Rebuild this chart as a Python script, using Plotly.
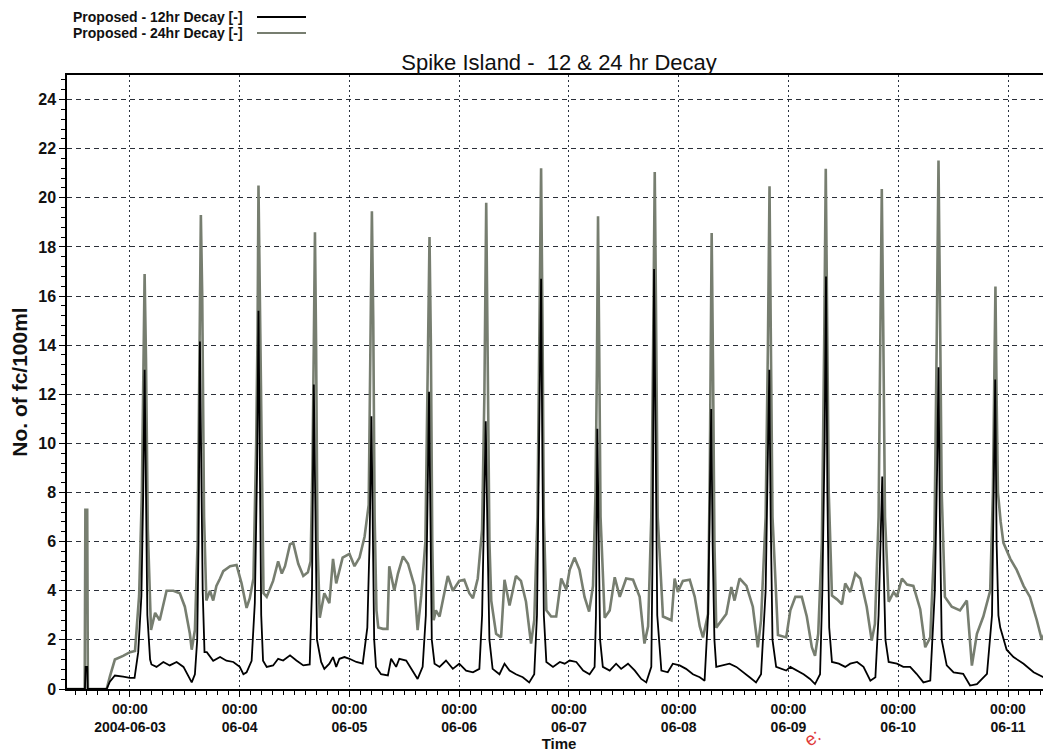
import pandas as pd
import plotly.graph_objects as go

# ---------------- data ----------------
BASE = "2004-06-03 00:00"  # hour offsets below are relative to this time

hours_24 = [
    -14.0, -9.9, -9.75, -9.35, -9.2, -5.1, -4.4, -3.3, -1.5, 0.0, 1.1, 2.0, 2.6, 2.9, 3.2, 3.5, 3.9, 4.6,
    5.5, 6.5, 7.3, 8.0, 9.5, 10.9, 12.0, 13.1, 13.5, 14.2, 14.8, 15.2, 15.5, 15.8, 16.2, 16.7,
    17.5, 18.2, 18.9, 19.7, 20.4, 21.9, 23.3, 24.4, 25.5, 26.2, 27.0, 27.6, 27.9, 28.1, 28.4, 28.8,
    29.2, 29.9, 31.3, 32.4, 33.2, 33.9, 35.0, 35.7, 36.8, 37.9, 38.9, 39.5, 39.9, 40.2, 40.45, 40.7, 41.0,
    41.5, 42.5, 43.6, 44.4, 45.1, 45.8, 46.5, 48.0, 49.1, 50.2, 51.3, 52.2, 52.6, 52.9, 53.2, 53.5,
    53.9, 54.3, 55.3, 56.3, 56.7, 57.8, 58.6, 59.7, 60.8, 62.2, 62.9, 63.7, 64.6, 65.1, 65.5, 65.8, 66.1,
    66.4, 66.9, 67.7, 68.8, 69.5, 70.6, 72.0, 73.1, 74.2, 75.0, 76.05, 77.0, 77.5, 77.9, 78.2, 78.6,
    79.0, 80.06, 81.15, 81.9, 83.0, 84.4, 85.5, 86.6, 87.7, 88.4, 89.1, 89.5, 89.9, 90.2, 90.5,
    91.05, 92.1, 93.2, 94.3, 95.4, 96.15, 97.2, 98.3, 99.4, 100.4, 101.25, 101.8, 102.1, 102.35, 102.6, 102.9,
    103.8, 104.9, 106.0, 107.1, 108.5, 110.0, 111.45, 112.5, 113.3, 114.0, 114.4, 114.75, 115.0, 115.4,
    116.55, 118.4, 119.1, 119.8, 120.9, 122.4, 123.5, 124.6, 125.3, 126.4, 126.8, 127.0, 127.2, 127.5, 127.8,
    128.2, 129.3, 130.4, 131.5, 132.2, 133.3, 134.8, 136.2, 137.3, 138.0, 139.0, 139.5, 139.85, 140.1, 140.5,
    141.7, 143.5, 144.4, 145.5, 146.9, 148.0, 149.1, 149.8, 150.5, 151.3, 151.8, 152.15, 152.4, 152.8,
    153.5, 154.6, 155.7, 156.4, 157.5, 158.6, 159.7, 161.1, 162.2, 162.9, 163.7, 164.1, 164.4, 164.7, 165.1,
    165.9, 167.0, 167.7, 168.8, 169.9, 171.3, 172.8, 173.9, 175.0, 175.9, 176.4, 176.8, 177.1, 177.5,
    178.2, 179.7, 181.5, 183.0, 184.1, 185.2, 186.6, 188.1, 188.7, 189.0, 189.25, 189.5, 189.8,
    190.4, 191.0, 192.5, 193.9, 195.4, 196.8, 198.3, 199.4, 200.5, 200.9, 201.3,
]
values_24 = [
    0.0, 0.0, 7.3, 7.3, 0.0, 0.0, 0.5, 1.2, 1.35, 1.5, 1.55, 3.8, 8.0, 12.5, 16.9, 13.5, 6.5, 2.4,
    3.1, 2.8, 3.5, 4.0, 4.0, 3.9, 3.35, 2.25, 1.6, 2.4, 6.0, 14.0, 19.3, 16.0, 7.0, 3.6,
    4.0, 3.6, 4.2, 4.5, 4.8, 5.0, 5.05, 4.3, 3.3, 3.7, 4.5, 10.0, 14.5, 20.5, 16.0, 8.0,
    3.9, 3.75, 4.4, 5.2, 4.7, 5.0, 5.9, 5.95, 5.1, 4.6, 4.75, 5.2, 9.0, 14.0, 18.6, 14.0, 6.0,
    2.9, 3.9, 3.5, 5.3, 4.3, 4.8, 5.35, 5.5, 5.0, 5.35, 6.2, 7.5, 14.0, 19.45, 15.0, 7.0,
    3.2, 2.5, 2.45, 2.45, 5.0, 4.0, 4.7, 5.4, 5.1, 4.2, 2.4, 3.8, 6.0, 12.0, 18.4, 14.0, 6.0,
    2.8, 3.2, 2.95, 3.9, 4.6, 4.0, 4.4, 4.45, 3.9, 3.7, 4.5, 6.5, 12.0, 19.8, 14.0, 6.0,
    3.6, 2.25, 2.1, 4.45, 3.4, 4.6, 4.4, 3.55, 1.85, 2.8, 7.0, 14.0, 21.2, 15.0, 7.0,
    3.2, 2.95, 2.95, 4.5, 4.05, 4.85, 5.35, 4.85, 3.75, 3.15, 4.2, 8.0, 13.0, 19.25, 14.0, 7.0,
    2.9, 3.2, 4.55, 3.75, 4.5, 4.45, 3.75, 1.85, 2.55, 7.0, 14.0, 21.05, 16.0, 7.0,
    2.95, 2.8, 4.5, 3.95, 4.4, 4.45, 3.75, 2.55, 2.1, 3.05, 9.0, 14.0, 18.57, 13.0, 6.0,
    2.5, 2.8, 3.05, 4.15, 3.6, 4.5, 4.2, 3.35, 1.7, 2.8, 7.0, 14.0, 20.47, 15.0, 7.0,
    2.2, 2.1, 3.2, 3.75, 3.75, 2.95, 1.7, 1.35, 2.25, 6.0, 14.0, 21.18, 16.0, 8.0,
    3.8, 3.65, 3.45, 4.3, 3.95, 4.7, 4.5, 3.35, 1.97, 2.65, 7.0, 14.0, 20.36, 15.0, 7.0,
    3.55, 3.95, 3.75, 4.5, 4.25, 4.2, 3.25, 1.7, 2.1, 6.0, 14.0, 21.52, 16.0, 8.0,
    3.75, 3.35, 3.2, 3.6, 0.95, 2.25, 2.95, 4.0, 8.0, 12.0, 16.39, 12.0, 8.0,
    6.8, 5.95, 5.3, 4.85, 4.2, 3.75, 2.8, 2.0, 2.5, 4.9, 12.5,
]

hours_12 = [
    -14.0, -9.85, -9.7, -9.35, -9.25, -5.1, -4.4, -3.3, -1.5, 0.0, 1.0, 1.8, 2.5, 2.9, 3.2, 3.5, 3.8, 4.4,
    4.7, 5.8, 7.3, 8.7, 10.2, 11.7, 12.75, 13.5, 14.2, 14.7, 15.0, 15.3, 15.6, 15.9, 16.3,
    16.8, 18.2, 19.7, 21.1, 22.6, 24.0, 24.8, 25.5, 26.6, 27.3, 27.8, 28.1, 28.4, 28.7,
    29.1, 29.9, 31.3, 32.4, 33.5, 35.0, 36.4, 37.9, 39.3, 39.8, 40.2, 40.5, 40.9,
    41.8, 42.5, 43.6, 44.4, 45.1, 45.8, 46.9, 48.0, 49.5, 50.9, 51.9, 52.4, 52.8, 53.1, 53.4,
    53.8, 54.9, 56.4, 57.1, 58.2, 58.9, 60.4, 61.8, 62.9, 64.0, 64.7, 65.1, 65.4, 65.7, 66.0,
    66.6, 67.7, 69.1, 70.6, 72.0, 73.5, 75.0, 76.4, 77.0, 77.5, 77.8, 78.2, 78.6,
    79.3, 80.8, 81.9, 83.0, 84.4, 85.9, 87.3, 88.4, 89.0, 89.5, 89.9, 90.2, 90.5,
    91.05, 92.5, 94.0, 95.05, 96.15, 97.6, 99.1, 100.5, 101.6, 101.9, 102.2, 102.5, 102.8,
    103.4, 104.9, 106.3, 107.4, 108.9, 110.4, 111.8, 112.9, 114.0, 114.3, 114.6, 114.9, 115.3,
    116.2, 117.6, 118.7, 120.2, 121.6, 123.1, 124.6, 125.65, 126.4, 126.8, 127.1, 127.4, 127.8,
    128.2, 129.7, 131.1, 132.6, 134.0, 135.5, 136.9, 138.0, 139.0, 139.5, 139.8, 140.1, 140.5,
    141.3, 143.5, 144.4, 145.8, 147.3, 148.7, 149.8, 150.9, 151.4, 151.9, 152.2, 152.5, 152.9,
    153.5, 155.0, 156.4, 157.5, 159.0, 160.4, 161.9, 163.0, 163.7, 164.2, 164.5, 164.8, 165.2,
    165.9, 167.7, 169.1, 170.6, 172.0, 173.5, 175.0, 176.0, 176.5, 176.8, 177.1, 177.5,
    178.6, 180.1, 182.2, 183.7, 185.2, 187.4, 188.5, 188.9, 189.2, 189.5, 189.9,
    190.3, 191.7, 193.2, 195.4, 197.6, 199.8, 200.8, 201.3,
]
values_12 = [
    0.0, 0.0, 0.9, 0.9, 0.0, 0.0, 0.3, 0.55, 0.5, 0.45, 0.45, 1.5, 3.8, 8.0, 13.0, 7.5, 3.0, 1.2,
    1.0, 0.9, 1.1, 0.96, 1.1, 0.9, 0.55, 0.27, 0.6, 2.0, 6.0, 14.15, 9.0, 4.0, 1.5,
    1.5, 1.15, 1.3, 1.15, 1.1, 0.9, 0.6, 0.68, 1.15, 3.5, 9.0, 15.4, 8.0, 3.0,
    1.15, 0.9, 0.96, 1.23, 1.16, 1.37, 1.16, 0.96, 1.0, 4.0, 12.4, 7.0, 2.0,
    1.1, 0.82, 1.03, 1.3, 0.9, 1.23, 1.3, 1.23, 1.1, 1.03, 2.5, 6.0, 11.1, 6.0, 2.0,
    0.9, 0.6, 0.55, 1.23, 0.9, 1.23, 1.16, 0.75, 0.41, 0.9, 3.0, 8.0, 12.1, 7.0, 2.0,
    1.03, 0.9, 1.16, 0.82, 1.03, 0.75, 0.68, 0.82, 3.0, 8.0, 10.9, 6.0, 2.0,
    0.82, 0.6, 1.03, 0.75, 0.6, 0.48, 0.27, 0.6, 3.0, 10.0, 16.7, 9.0, 3.0,
    1.1, 0.9, 1.1, 1.03, 1.16, 1.1, 0.75, 0.6, 0.9, 3.0, 10.6, 6.0, 2.0,
    0.9, 0.75, 1.03, 0.82, 1.03, 0.75, 0.41, 0.27, 0.9, 6.0, 17.1, 10.0, 3.0,
    0.75, 0.68, 1.03, 0.96, 0.82, 0.6, 0.48, 0.34, 3.0, 8.0, 11.4, 6.0, 2.0,
    0.9, 0.96, 1.03, 0.9, 0.68, 0.48, 0.27, 0.6, 4.0, 9.0, 13.0, 7.0, 2.0,
    0.9, 0.75, 0.9, 0.75, 0.6, 0.41, 0.2, 0.6, 4.0, 10.0, 16.8, 8.0, 2.5,
    1.1, 1.03, 0.9, 1.03, 1.1, 0.9, 0.34, 0.48, 3.0, 6.0, 8.65, 5.0, 2.0,
    1.1, 1.03, 0.9, 0.9, 0.62, 0.27, 0.34, 4.0, 9.0, 13.1, 7.0, 2.0,
    0.96, 0.68, 0.62, 0.14, 0.2, 0.62, 3.0, 8.0, 12.6, 6.0, 3.0,
    2.5, 1.6, 1.3, 1.03, 0.68, 0.48, 0.75, 3.5,
]

day_ticks = ["2004-06-03", "2004-06-04", "2004-06-05", "2004-06-06", "2004-06-07",
             "2004-06-08", "2004-06-09", "2004-06-10", "2004-06-11"]
day_labels = ["2004-06-03", "06-04", "06-05", "06-06", "06-07", "06-08", "06-09", "06-10", "06-11"]

series_names = ["Proposed - 12hr Decay [-]", "Proposed - 24hr Decay [-]"]
title_text = "Spike Island -  12 & 24 hr Decay"
y_title = "No. of fc/100ml"
x_title = "Time"
x_range_hours = [-13.77, 201.4]
y_range = [0, 25]

# ---------------- build ----------------
base = pd.Timestamp(BASE)
to_time = lambda hs: [base + pd.Timedelta(hours=h) for h in hs]

C12 = "#000000"
C24 = "#777e70"
FONT_N = "Liberation Sans, Arial, sans-serif"

fig = go.Figure()
fig.add_trace(go.Scatter(x=to_time(hours_24), y=values_24, mode="lines", name=series_names[1],
                         line=dict(color=C24, width=2.6), showlegend=False))
fig.add_trace(go.Scatter(x=to_time(hours_12), y=values_12, mode="lines", name=series_names[0],
                         line=dict(color=C12, width=1.8), showlegend=False))

# page body adds an 8px offset; lay out in screen pixels and shift by OFF
OFF = 8
W, H = 1051, 754
PL, PT, PR, PB = 67, 75, 1051, 689          # plot area edges on screen
L, T = PL - OFF, PT - OFF
R = W - (PR - OFF)
B = H - (PB - OFF)
pw, ph = W - L - R, H - T - B


def px(xs):
    return (xs - OFF - L) / pw


def py(ys):
    return (H - B - (ys - OFF)) / ph


tick_text = ["00:00<br>" + d for d in day_labels]

fig.update_layout(
    width=W, height=H,
    margin=dict(l=L, r=R, t=T, b=B, pad=0),
    paper_bgcolor="white", plot_bgcolor="white",
    font=dict(family=FONT_N, color="#111111"),
    title=dict(text=title_text, x=(PL + (PR - PL) / 2 - OFF) / W, xanchor="center",
               y=1 - (62 - OFF) / H, yanchor="middle", yref="container", xref="container",
               font=dict(family="Liberation Sans, Arial, sans-serif", size=22, color="#111111")),
    xaxis=dict(
        type="date",
        range=to_time(x_range_hours),
        tickvals=[pd.Timestamp(d) for d in day_ticks], ticktext=tick_text,
        tickfont=dict(size=14, family=FONT_N, weight="bold"),
        ticks="outside", ticklen=6, tickwidth=1, tickcolor="black",
        showline=True, linecolor="black", linewidth=1.5, mirror=True,
        showgrid=True, gridcolor="#2a3340", gridwidth=1, griddash="2px,3px",
        minor=dict(ticks="outside", ticklen=4, tickcolor="black", dtick=2.4 * 3600 * 1000,
                   tick0=base, showgrid=False),
        title=dict(text=x_title, standoff=0, font=dict(size=15, family=FONT_N, weight="bold")),
        automargin=False, zeroline=False,
    ),
    yaxis=dict(
        range=y_range, dtick=2, tick0=0,
        tickfont=dict(size=16, family=FONT_N, weight="bold"),
        ticks="outside", ticklen=6, tickwidth=1, tickcolor="black",
        showline=True, linecolor="black", linewidth=1.5, mirror=True,
        showgrid=True, gridcolor="#2b2f38", gridwidth=1, griddash="5px,4px",
        minor=dict(ticks="outside", ticklen=4, tickcolor="black", dtick=0.4, showgrid=False),
        title=dict(text=y_title, standoff=9, font=dict(size=21, family=FONT_N, weight="bold")),
        automargin=False, zeroline=False,
    ),
)

# legend (text left, line sample right)
for name, color, ys in [(series_names[0], C12, 17), (series_names[1], C24, 33)]:
    fig.add_annotation(x=px(244), y=py(ys), xref="paper", yref="paper", text=name, showarrow=False,
                       xanchor="right", yanchor="middle", borderpad=0,
                       font=dict(size=14, family=FONT_N, weight="bold", color="#111111"))
    fig.add_shape(type="line", xref="paper", yref="paper", x0=px(257), x1=px(306), y0=py(ys), y1=py(ys),
                  line=dict(color=color, width=2.2))

# red stamp fragment at the bottom
fig.add_annotation(x=px(812), y=py(738), xref="paper", yref="paper", text="e:", showarrow=False,
                   xanchor="center", yanchor="middle", textangle=-35,
                   font=dict(size=18, color="#e03a3a", family="Liberation Sans, Arial, sans-serif"))

fig.write_html("out.html")
